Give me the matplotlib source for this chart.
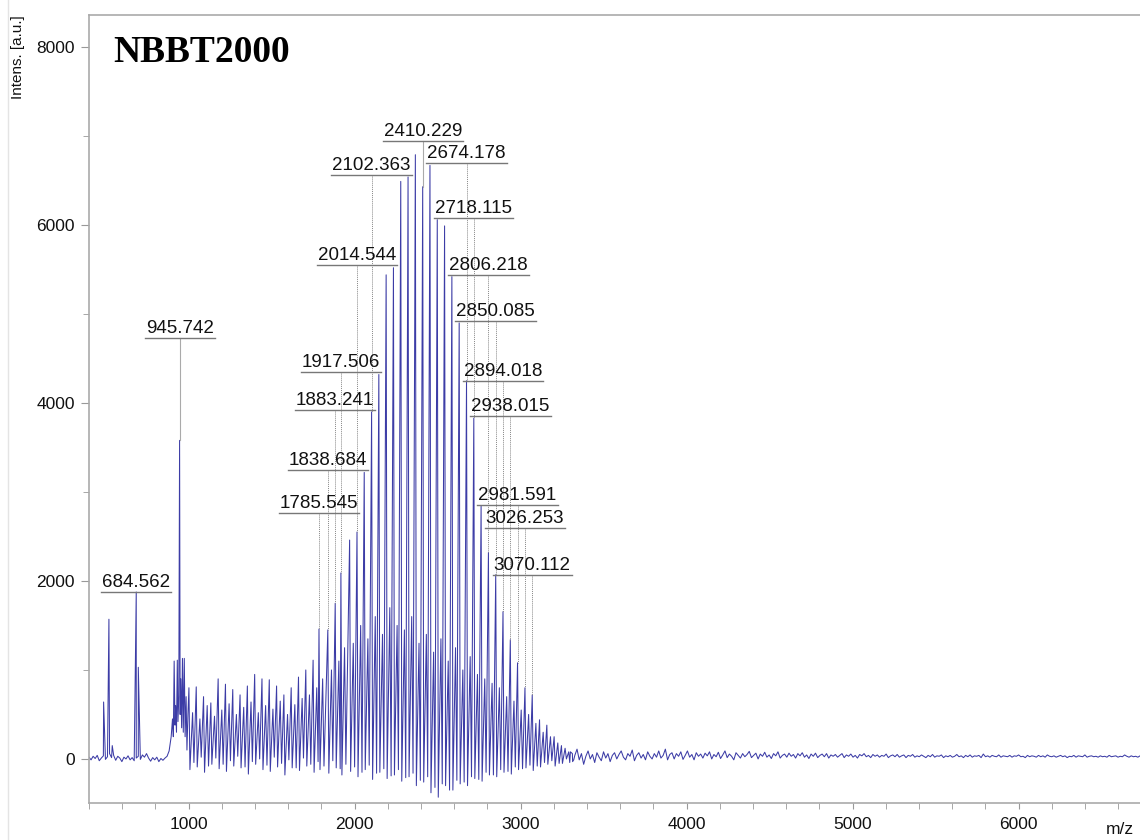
import numpy as np
import matplotlib.pyplot as plt
from matplotlib.ticker import MultipleLocator

plt.rcParams['font.family'] = ['Liberation Sans', 'DejaVu Sans']

# baseline before the polymer envelope, 400..895 m/z
pre_bg = [20, -10, 30, 5, 40, -20, 10, 35, -5, 25, 60, 15, 40, -15, 30, 10, -30, 20, 0, 35,
          -10, 15, -20, 10, 30, -5, 45, 20, 60, 10, -25, 15, -10, 20, -30, 5, -15, 10, 30, 90, 250]
# isolated low mass peaks
pre_mz = [488, 520, 540, 684.6, 697]
pre_h = [640, 1570, 150, 1876, 1030]
# cluster around 945.742
cluster_mz = [903, 908, 913, 918, 922, 927, 932, 936, 941, 945.7, 949, 953, 958, 963, 968, 974, 979, 985, 990, 996]
cluster_h = [450, 250, 1100, 380, 600, 300, 1110, 420, 700, 3580, 500, 900, 350, 1130, 300, 1130, 250, 700, 100, 500]

# main oligomer series (44 Da spacing)
main_mz = [1002, 1046, 1090, 1134, 1178, 1222, 1266, 1310, 1354, 1398, 1442, 1486, 1530, 1574, 1618, 1662, 1706, 1750,
           1785.5, 1838.7, 1883.2, 1917.5,
           1970, 2014.5, 2058, 2102.4, 2146, 2190, 2234, 2278, 2322, 2366, 2410.2,
           2454, 2498, 2542, 2586, 2630, 2674.2, 2718.1, 2762, 2806.2, 2850.1, 2894.0, 2938.0, 2981.6, 3026.3, 3070.1,
           3114, 3158, 3202, 3246, 3290]
main_h = [800, 810, 700, 630, 900, 840, 780, 720, 820, 950, 900, 890, 820, 720, 800, 920, 1000, 1110,
          1460, 1450, 1750, 2090,
          2460, 2550, 3220, 3900, 4320, 5440, 5520, 6490, 6540, 6790, 6430,
          6670, 6060, 5990, 5420, 4900, 4250, 3830, 2840, 2320, 2070, 1655, 1340, 1080, 800, 720,
          440, 380, 250, 150, 80]
main_dip = [-120, -90, -150, -60, -110, -140, -80, -100, -170, -60, -120, -140, -90, -180, -100, -130, -80, -150,
            -120, -160, -100, -180,
            -140, -200, -120, -230, -150, -220, -180, -250, -200, -300, -260,
            -380, -430, -300, -350, -280, -300, -220, -250, -180, -200, -150, -170, -120, -100, -130,
            -90, -60, -80, -50, -40]
# weaker series in between the main peaks
sec_h = [520, 450, 600, 480, 550, 620, 500, 580, 640, 520, 600, 560, 650, 500, 610, 680, 720, 800,
         900, 1000, 1100, 1250,
         1300, 1500, 1350, 1600, 1400, 1700, 1500, 1450, 1600, 1300, 1400,
         1200, 1350, 1100, 1250, 1000, 1150, 950, 900, 850, 800, 700, 650, 550, 500, 400,
         300, 250, 180, 120, 60]
sec_dip = [-40, 20, -80, 10, -60, -20, 30, -90, -30, 0, -70, 20, -50, -10, -100, 10, -60, -30,
           -80, -20, -110, -60,
           -90, -150, -70, -160, -110, -190, -120, -210, -160, -240, -200,
           -320, -280, -350, -240, -260, -200, -230, -150, -180, -120, -140, -90, -110, -70, -80,
           -40, -20, -50, 0, -10]

# baseline noise after the envelope, 3300..6745 m/z
tail_bg = [80, -30, 40, 110, -10, 60, -60, 30, 90, 0, 50, -40, 70, 20, -20, 80, 10, 60, -30, 40,
           70, 0, 50, 90, 20, -10, 60, 30, 100, -20, 40, 70, 10, 50, -10, 80, 30, 0, 60, 20,
           90, 10, 40, 110, -10, 50, 70, 0, 60, 30, 80, -5, 40, 90, 20, 50, -10, 70, 30, 55,
           10, 65, 35, 80, 0, 50, 25, 75, 5, 45, 90, 15, 55, 30, -10, 70, 40, 10, 60, 25,
           50, 85, 15, 40, 65, 0, 55, 30, 75, 20, 45, 5, 60, 35, 80, 10, 40, 55, 20, 65,
           30, 50, 10, 60, 35, 70, 20, 45, 5, 55, 30, 65, 15, 40, 55, 25, 60, 10, 45, 30,
           50, 20, 40, 60, 15, 45, 30, 55, 20, 40, 10, 50, 35, 60, 25, 40, 15, 50, 30, 45,
           20, 40, 30, 55, 15, 35, 45, 25, 50, 20, 35, 45, 15, 40, 30, 50, 20, 35, 25, 45,
           30, 15, 40, 25, 50, 20, 35, 30, 45, 15, 35, 25, 40, 20, 30, 50, 25, 35, 15, 40,
           25, 45, 20, 35, 30, 40, 15, 55, 25, 35, 20, 40, 30, 25, 45, 20, 35, 30, 25, 40,
           20, 35, 30, 45, 25, 30, 15, 40, 25, 35, 30, 20, 40, 25, 35, 20, 45, 30, 25, 35,
           20, 30, 40, 25, 35, 15, 30, 25, 40, 20, 35, 30, 25, 45, 20, 30, 35, 25, 30, 20,
           35, 25, 30, 20, 40, 25, 30, 35, 20, 30, 25, 45, 30, 20, 35, 25, 30, 20, 35, 25]

label_mz = [684.562, 945.742, 1785.545, 1838.684, 1883.241, 1917.506, 2014.544, 2102.363, 2410.229,
            2674.178, 2718.115, 2806.218, 2850.085, 2894.018, 2938.015, 2981.591, 3026.253, 3070.112]
label_level = [1876, 4730, 2764, 3247, 3921, 4348, 5551, 6562, 6944,
               6697, 6079, 5438, 4921, 4247, 3854, 2854, 2596, 2067]
solid_labels = [684.562, 945.742, 2410.229]

# assemble the trace
xs = list(np.linspace(400, 895, len(pre_bg))) + pre_mz + cluster_mz
ys = pre_bg + pre_h + cluster_h
for i, m in enumerate(main_mz):
    xs += [m, m + 6, m + 22, m + 30]
    ys += [main_h[i], main_dip[i], sec_h[i], sec_dip[i]]
xs += list(np.linspace(3300, 6745, len(tail_bg)))
ys += tail_bg
xs = np.array(xs)
ys = np.array(ys)
order = np.argsort(xs, kind='stable')

fig = plt.figure(figsize=(11.4, 8.4), dpi=100)
ax = fig.add_axes([89/1140, 37/840, 1 - 89/1140 + 0.002, 788/840])
ax.plot(xs[order], ys[order], color='#3c3ca6', lw=0.75)

ax.set_xlim(400, 6745)
ax.set_ylim(-495, 8360)
ax.xaxis.set_major_locator(MultipleLocator(1000))
ax.xaxis.set_minor_locator(MultipleLocator(200))
ax.yaxis.set_major_locator(MultipleLocator(2000))
ax.yaxis.set_minor_locator(MultipleLocator(1000))
ax.tick_params(which='both', colors='#999999', labelcolor='#111111', labelsize=12.5)
ax.tick_params(axis='y', which='major', length=6, pad=4)
ax.tick_params(axis='y', which='minor', length=4)
ax.tick_params(axis='x', which='both', length=4, pad=6)
for s in ['left', 'bottom', 'top']:
    ax.spines[s].set_color('#aaaaaa')
    ax.spines[s].set_linewidth(1.2)
ax.spines['right'].set_visible(False)

# peak labels with underline and connector
pk_mz = np.array(pre_mz + cluster_mz + main_mz)
pk_h = np.array(pre_h + cluster_h + main_h)
texts = []
for m, lvl in zip(label_mz, label_level):
    t = ax.annotate(f'{m:.3f}', (m, lvl), xytext=(0, 1), textcoords='offset points',
                    ha='center', va='bottom', fontsize=13.5, color='#111111')
    texts.append(t)
    top = pk_h[np.argmin(np.abs(pk_mz - m))]
    if m in solid_labels:
        ax.plot([m, m], [lvl, top], color='#aaaaaa', lw=0.8)
    else:
        ax.plot([m, m], [lvl, top], color='#888888', lw=0.7, ls=(0, (1, 1)))

fig.canvas.draw()
inv = ax.transData.inverted()
for t, m, lvl in zip(texts, label_mz, label_level):
    bb = t.get_window_extent()
    x0 = inv.transform((bb.x0 - 1, 0))[0]
    x1 = inv.transform((bb.x1 + 1, 0))[0]
    ax.plot([x0, x1], [lvl, lvl], color='#777777', lw=1.0)

fig.text(113/1140, 1 - 62/840, 'NBBT2000', family=['Liberation Serif', 'DejaVu Serif'],
         fontweight='bold', fontsize=27, va='baseline', ha='left')
fig.text(18/1140, 1 - 57/840, 'Intens. [a.u.]', rotation=90, ha='center', va='center',
         fontsize=11, color='#111111')
fig.text(1120/1140, 1 - 830/840, 'm/z', ha='center', va='center', fontsize=12.5, color='#111111')
fig.add_artist(plt.Line2D([8/1140, 8/1140], [0, 1], color='#e4e4e4', lw=1))

fig.savefig('out.png', dpi=100)
